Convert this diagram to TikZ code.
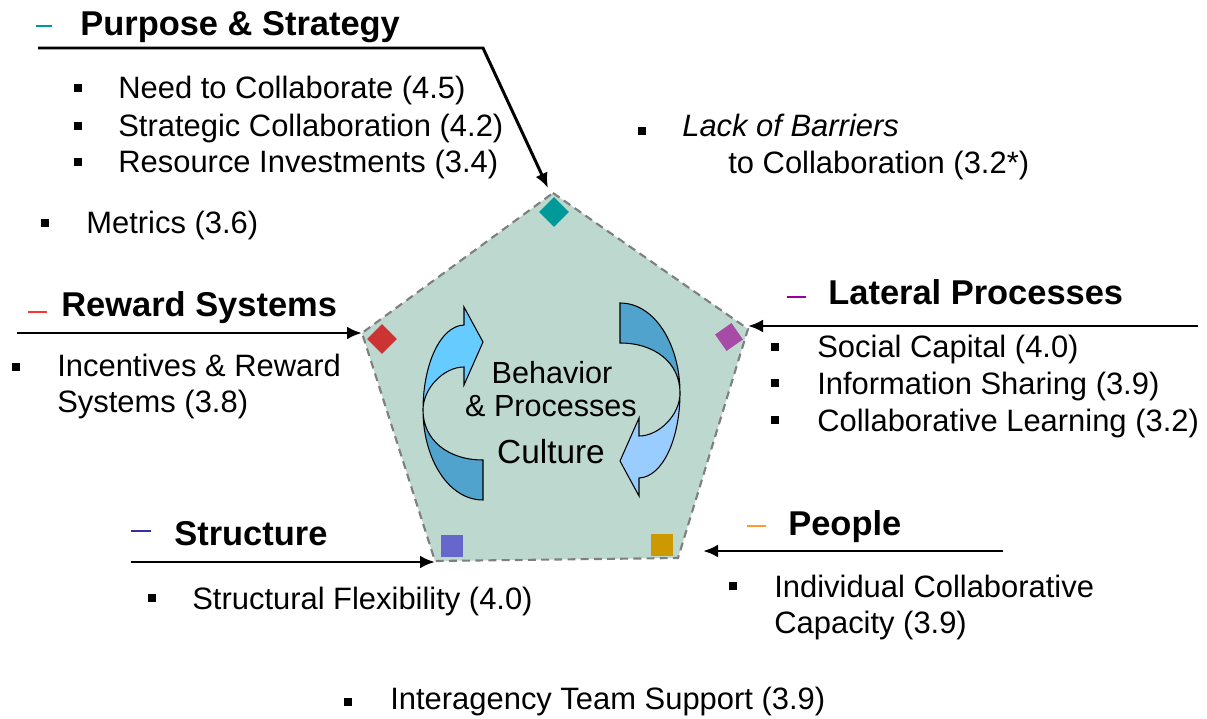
\documentclass[tikz,border=0pt]{standalone}
\usepackage{fontspec}
\setmainfont{Liberation Sans}
\usepackage{tikz}
\usetikzlibrary{arrows.meta}

\definecolor{pentfill}{HTML}{BDD9CF}
\definecolor{pentline}{HTML}{7F7F7F}
\definecolor{swirldark}{HTML}{4FA3CC}
\definecolor{swirlleft}{HTML}{66CCFF}
\definecolor{swirlright}{HTML}{99CCFF}
\definecolor{mkteal}{HTML}{009999}
\definecolor{mkred}{HTML}{CC3333}
\definecolor{mkpurple}{HTML}{A64CA6}
\definecolor{mkblue}{HTML}{6666CC}
\definecolor{mkgold}{HTML}{CC9900}
\definecolor{dshteal}{HTML}{009999}
\definecolor{dshred}{HTML}{FF3333}
\definecolor{dshpurple}{HTML}{990099}
\definecolor{dshblue}{HTML}{333399}
\definecolor{dshorange}{HTML}{FF9933}

\tikzset{
  item/.style={anchor=base west, inner sep=0pt, font=\fontsize{17.6}{21}\selectfont},
  heading/.style={anchor=base west, inner sep=0pt, font=\fontsize{19.6}{23}\selectfont\bfseries},
  centertext/.style={anchor=base, inner sep=0pt, font=\fontsize{17.4}{21}\selectfont},
  bullet/.style={fill=black, inner sep=0pt, minimum size=1.7mm},
  feed/.style={-{Latex[length=3mm, width=2.6mm]}, line width=1.7pt},
  headdash/.style={line width=1.4pt},
  corner/.style={inner sep=0pt, minimum size=4.4mm},
}

% one curved arrow of the cycle, back face and front face
\newcommand{\swirl}[1]{%
  \filldraw[fill=swirldark, draw=black, line width=0.6pt]
    (483,500) -- (483,460) .. controls (448,460) and (423,440) .. (423,410)
    .. controls (423,458) and (448,500) .. (483,500) -- cycle;
  \filldraw[fill=#1, draw=black, line width=0.6pt]
    (423,410) .. controls (423,365) and (440,326) .. (464,325)
    -- (464,307) -- (483,342) -- (464,385) -- (464,367)
    .. controls (444,367) and (423,388) .. (423,410) -- cycle;
}

\begin{document}
\begin{tikzpicture}[x=0.02cm, y=-0.02cm]
  \useasboundingbox (0,0) rectangle (1207,719);

  % pentagon
  \coordinate (ctop) at (553,193);
  \coordinate (cright) at (748,329);
  \coordinate (cbr) at (678,558);
  \coordinate (cbl) at (435,561);
  \coordinate (cleft) at (362,333);
  \filldraw[fill=pentfill, draw=pentline, line width=1.2pt, dash pattern=on 4.5pt off 3pt]
    (ctop) -- (cright) -- (cbr) -- (cbl) -- (cleft) -- cycle;

  % corner markers
  \node[corner, fill=mkteal, minimum size=4.2mm, rotate=45] (mtop) at (554,212) {};
  \node[corner, fill=mkred, minimum size=4.2mm, rotate=45] (mleft) at (382,339) {};
  \node[corner, fill=mkpurple, minimum size=4mm, rotate=35] (mright) at (729,337) {};
  \node[corner, fill=mkblue] (mbl) at (452,546) {};
  \node[corner, fill=mkgold] (mbr) at (662,545) {};

  % cycle arrows
  \swirl{swirlleft}
  \begin{scope}[rotate around={180:(551.5,401.5)}]
    \swirl{swirlright}
  \end{scope}

  % center text
  \node[centertext] (behav) at (552,384) {Behavior};
  \node[centertext] (procs) at (551,417) {\& Processes};
  \node[centertext, font=\fontsize{19}{23}\selectfont] (cult) at (551,463) {Culture};

  % headings
  \draw[headdash, dshteal] (36,26) -- (52,26);
  \node[heading] (hps) at (80,36) {Purpose \& Strategy};
  \draw[headdash, dshred] (28,312) -- (47,312);
  \node[heading] (hrs) at (61,317) {Reward Systems};
  \draw[headdash, dshpurple] (787,297) -- (806,297);
  \node[heading] (hlp) at (828,305) {Lateral Processes};
  \draw[headdash, dshblue] (131,531) -- (151,531);
  \node[heading] (hst) at (174,545) {Structure};
  \draw[headdash, dshorange] (747,526) -- (766,526);
  \node[heading] (hpe) at (788,535) {People};

  % feed arrows
  \coordinate (psstart) at (38,48);
  \coordinate (psbend) at (483,48);
  \coordinate (pstip) at (548,188);
  \coordinate (rsstart) at (17,333);
  \coordinate (lpstart) at (1198,326);
  \coordinate (ststart) at (131,562);
  \coordinate (pestart) at (1003,551);
  \coordinate (petip) at (703,551);
  \draw[feed] (psstart) -- (psbend) -- (pstip);
  \draw[feed] (rsstart) -- (cleft);
  \draw[feed] (lpstart) -- (cright |- lpstart);
  \draw[feed] (ststart) -- (cbl |- ststart);
  \draw[feed] (pestart) -- (petip);

  % bullets
  \foreach \x/\y [count=\i] in {78/88, 78/126, 78/162, 45/223, 642/131,
      16/367, 775/347, 775/383, 775/420, 152/598, 733/586, 348/702}
    \node[bullet] (bul\i) at (\x,\y) {};

  % items
  \node[item] (need) at (118,99) {Need to Collaborate (4.5)};
  \node[item] (strat) at (118,137) {Strategic Collaboration (4.2)};
  \node[item] (resrc) at (118,173) {Resource Investments (3.4)};
  \node[item] (metr) at (86,234) {Metrics (3.6)};
  \node[item, font=\fontsize{17.6}{21}\selectfont\itshape] (barr) at (682,137) {Lack of Barriers};
  \node[item] (barrb) at (728,174) {to Collaboration (3.2*)};
  \node[item] (incent) at (57,377) {Incentives \& Reward};
  \node[item] (incentb) at (57,413) {Systems (3.8)};
  \node[item] (social) at (817,358) {Social Capital (4.0)};
  \node[item] (info) at (817,395) {Information Sharing (3.9)};
  \node[item] (learn) at (817,432) {Collaborative Learning (3.2)};
  \node[item] (flex) at (192,609) {Structural Flexibility (4.0)};
  \node[item] (indiv) at (774,597) {Individual Collaborative};
  \node[item] (indivb) at (774,633) {Capacity (3.9)};
  \node[item] (inter) at (390,709) {Interagency Team Support (3.9)};
\end{tikzpicture}
\end{document}
